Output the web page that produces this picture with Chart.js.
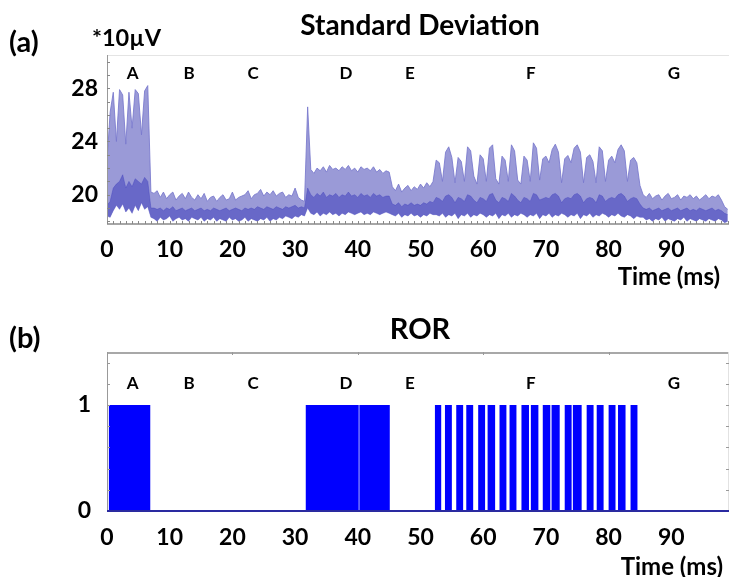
<!DOCTYPE html>
<html><head><meta charset="utf-8">
<script src="https://cdn.jsdelivr.net/npm/chart.js@4.4.0/dist/chart.umd.min.js"></script>
<style>
html,body{margin:0;padding:0;background:#fff;}
body{width:730px;height:577px;position:relative;overflow:hidden;font-family:Lato,"Open Sans",sans-serif;font-weight:bold;color:#000;}
canvas{position:absolute;left:0;}
.t{position:absolute;white-space:nowrap;line-height:1;transform:translateY(-50%);}
.c{transform:translate(-50%,-50%);}
</style></head><body>
<canvas id="c1" width="730" height="290" style="top:0"></canvas>
<canvas id="c2" width="730" height="287" style="top:290px"></canvas>
<div class="t" style="left:9px;top:40px;font-size:29px">(a)</div>
<div class="t" style="left:92px;top:38px;font-size:23.5px">*10µV</div>
<div class="t c" style="left:420px;top:24px;font-size:28px">Standard Deviation</div>
<div class="t" style="right:10px;top:276px;font-size:24px">Time (ms)</div>
<div class="t" style="left:9px;top:336px;font-size:29px">(b)</div>
<div class="t c" style="left:420px;top:327px;font-size:29px">ROR</div>
<div class="t" style="right:7px;top:566px;font-size:24px">Time (ms)</div>
<script>
// ---------------- data ----------------
const sdStepMs = 0.5;             // sample spacing of the SD trace (ms)
// upper envelope of the standard deviation trace (*10 µV), regions A..G
const sdUpper = [
  22.5,26.2,27.7,24.0,27.9,27.5,23.8,27.7,25.0,27.9,27.6,24.5,27.8,28.2,20.2,
  20.1,20.3,19.8,20.2,19.7,20.0,20.2,19.6,19.9,20.1,19.7,20.2,19.8,19.6,20.0,19.7,20.1,19.5,19.8,19.9,19.5,19.8,20.0,19.6,19.7,20.2,19.6,19.8,19.9,20.0,20.3,19.7,20.0,20.1,20.4,19.9,20.2,20.0,20.3,19.9,20.1,20.2,19.8,20.0,19.9,20.5,19.8,19.6,19.5,
  26.6,21.9,21.6,22.0,21.8,22.1,21.7,22.2,21.9,22.0,21.8,22.1,21.9,22.2,21.8,22.0,21.7,22.1,21.9,22.0,21.8,22.1,21.7,21.9,21.6,21.8,21.7,
  20.6,20.3,20.8,20.2,20.5,20.7,20.3,20.6,20.4,20.8,20.5,20.9,20.6,21.0,
  22.6,22.4,21.0,23.2,23.6,22.8,20.9,22.8,22.5,21.0,
  23.6,23.3,21.4,20.8,23.0,22.7,21.0,23.5,23.75,21.2,
  20.8,22.9,22.6,21.0,23.75,23.3,21.1,20.8,22.9,22.6,
  21.0,23.9,23.5,21.1,22.7,22.9,22.4,23.4,23.8,23.2,
  20.9,22.7,22.95,22.4,23.5,23.75,23.2,20.9,22.8,23.0,
  22.5,20.9,23.6,23.3,21.0,22.6,22.9,22.4,23.4,23.75,
  23.3,21.0,22.6,22.8,22.4,20.7,
  20.0,19.8,20.1,19.7,19.9,20.0,19.6,19.9,20.1,19.7,19.8,20.0,19.6,19.9,19.8,20.0,19.7,19.9,19.6,19.8,20.0,19.7,19.9,19.8,20.0,19.6,19.1,18.9
];
// lower envelope
const sdLower = [
  18.4,18.3,18.8,19.2,18.9,19.3,18.7,19.0,18.6,19.2,18.8,19.4,18.9,19.1,18.3,
  18.2,18.0,18.3,18.1,18.2,18.4,18.0,18.2,18.3,18.1,18.2,18.0,18.3,18.2,18.1,18.3,18.0,18.2,18.1,18.3,18.0,18.2,18.1,18.0,18.3,18.1,18.2,18.0,18.1,18.3,18.0,18.2,18.1,18.0,18.2,18.1,18.3,18.0,18.2,18.1,18.3,18.2,18.4,18.3,18.2,18.4,18.3,18.5,18.4,
  19.0,18.6,18.5,18.7,18.4,18.6,18.5,18.7,18.5,18.6,18.4,18.6,18.5,18.7,18.6,18.5,18.6,18.7,18.5,18.6,18.5,18.7,18.6,18.5,18.6,18.7,18.6,
  18.5,18.4,18.6,18.3,18.5,18.4,18.6,18.4,18.5,18.3,18.5,18.4,18.6,18.5,
  18.5,18.4,18.6,18.3,18.5,18.4,18.6,18.2,18.5,18.4,
  18.6,18.3,18.5,18.4,18.6,18.5,18.3,18.5,18.4,18.6,
  18.2,18.5,18.4,18.6,18.3,18.5,18.4,18.6,18.5,18.3,
  18.5,18.4,18.6,18.2,18.5,18.4,18.6,18.3,18.5,18.4,
  18.6,18.5,18.3,18.5,18.4,18.6,18.2,18.5,18.4,18.6,
  18.3,18.5,18.4,18.6,18.5,18.3,18.5,18.4,18.6,18.4,
  18.3,18.5,18.4,18.2,18.4,18.3,
  18.3,18.1,18.2,18.0,18.2,18.1,18.3,18.0,18.2,18.1,18.0,18.2,18.1,18.3,18.0,18.2,18.1,18.0,18.2,18.1,18.0,18.2,18.1,18.0,18.2,18.1,17.9,18.0
];
// top of the dense (dark) core of the trace
const sdCore = [
  19.2,19.5,20.5,20.8,21.0,21.5,20.5,21.0,20.6,21.2,21.0,20.8,21.3,21.0,19.0,
  19.0,18.9,19.0,18.8,19.0,18.9,19.1,18.8,18.9,19.0,18.8,18.9,19.0,18.8,18.9,19.0,18.8,18.9,18.8,19.0,18.9,18.8,18.9,19.0,18.8,18.9,19.0,18.9,18.8,19.0,18.9,19.0,18.9,19.1,19.0,18.9,19.1,19.0,18.9,19.1,19.0,18.9,19.1,19.0,19.1,19.2,19.0,19.1,19.0,
  20.5,20.0,19.8,20.1,19.9,20.2,19.8,20.0,19.9,20.1,19.8,20.0,19.9,20.2,19.9,20.0,19.8,20.1,19.9,20.0,19.8,20.1,19.9,20.0,19.8,19.9,19.9,
  19.3,19.2,19.4,19.1,19.3,19.2,19.4,19.2,19.3,19.2,19.4,19.3,19.5,19.4,
  19.8,19.7,19.5,19.9,20.0,19.8,19.4,19.8,19.7,19.5,
  20.0,19.9,19.6,19.4,19.8,19.7,19.5,20.0,20.1,19.6,
  19.4,19.8,19.7,19.5,20.1,19.9,19.6,19.4,19.8,19.7,
  19.5,20.1,20.0,19.6,19.7,19.8,19.7,20.0,20.1,19.9,
  19.4,19.7,19.8,19.7,20.0,20.1,19.9,19.4,19.7,19.8,
  19.7,19.4,20.0,19.9,19.5,19.7,19.8,19.7,20.0,20.1,
  19.9,19.5,19.7,19.8,19.7,19.3,
  19.0,18.9,19.0,18.8,18.9,19.0,18.8,18.9,19.0,18.8,18.9,19.0,18.8,18.9,19.0,18.8,18.9,18.8,19.0,18.9,18.8,18.9,19.0,18.8,18.9,18.8,18.6,18.5
];
// ROR on-intervals (ms)
const rorStart = [0.3,31.7,40.2,52.3,53.9,55.7,57.3,59.2,60.7,62.6,64.2,66.1,67.6,69.5,70.9,73.0,74.3,76.5,78.1,80.0,81.5,83.5];
const rorEnd   = [6.9,40.2,45.1,53.3,55.0,56.8,58.4,60.3,61.9,63.7,65.3,67.3,68.8,70.7,72.2,74.1,75.7,77.6,79.2,81.1,82.7,84.6];
// axes / labels
const timeMax = 99.2;
const xTickLabels = [0,10,20,30,40,50,60,70,80,90];
const sdTicks = [20,24,28];
const sdRange = [17.8,30.5];
const rorTicks = [0,1];
const rorRange = [0,1.5];
const regionNames = ['A','B','C','D','E','F','G'];
const regionPos   = [4.1,13.1,23.3,38.1,48.3,67.6,90.4];

// ---------------- helpers ----------------
const toPts = arr => arr.map((v,i)=>({x:i*sdStepMs, y:v}));
const rorPts = [{x:0,y:0}];
rorStart.forEach((s,i)=>{ rorPts.push({x:s,y:0},{x:s,y:1},{x:rorEnd[i],y:1},{x:rorEnd[i],y:0}); });
rorPts.push({x:timeMax,y:0});
const dividerPts = [];
rorEnd.forEach((e,i)=>{ if(i+1<rorStart.length && rorStart[i+1]===e){ dividerPts.push({x:e,y:0},{x:e,y:1},{x:NaN,y:NaN}); } });

const FONT = 'Lato';
function ln(ctx,x1,y1,x2,y2){ctx.beginPath();ctx.moveTo(x1,y1);ctx.lineTo(x2,y2);ctx.stroke();}

const decor = {
  id:'decor',
  afterDraw(chart, args, o){
    const {ctx, chartArea:a, scales:{x,y}} = chart;
    ctx.save();
    ctx.lineWidth = o.topWidth; ctx.strokeStyle = o.topColor;
    ln(ctx, a.left, a.top+o.topWidth/2, a.right, a.top+o.topWidth/2);
    if (o.rightColor){ ctx.lineWidth=1; ctx.strokeStyle=o.rightColor; ln(ctx,a.right-0.5,a.top,a.right-0.5,a.bottom); }
    ctx.lineWidth = 1; ctx.strokeStyle = o.leftColor;
    ln(ctx, a.left+0.5, a.top, a.left+0.5, a.bottom);
    ctx.strokeStyle = o.tickColor; ctx.lineWidth = 1;
    for (let k=0; ; k++){
      const v = o.yMinorStart + k*o.yMinorStep; if (v > y.max+1e-9) break;
      const py = Math.round(y.getPixelForValue(v))+0.5;
      ln(ctx, a.left, py, a.left+o.len, py);
      if (o.rightTicks) ln(ctx, a.right, py, a.right-o.len, py);
    }
    if (o.xMinorStep){
      for (let k=0; ; k++){
        const v = k*o.xMinorStep; if (v > x.max+1e-9) break;
        const px = Math.round(x.getPixelForValue(v))+0.5;
        ln(ctx, px, a.bottom, px, a.bottom-o.len);
      }
    }
    if (o.topTickStep){
      for (let k=1; ; k++){
        const v = k*o.topTickStep; if (v > x.max) break;
        const px = Math.round(x.getPixelForValue(v))+0.5;
        ln(ctx, px, a.top, px, a.top+o.len);
      }
    }
    ctx.lineWidth = o.bottomWidth; ctx.strokeStyle = o.bottomColor;
    ln(ctx, a.left, a.bottom, a.right, a.bottom);
    ctx.fillStyle = '#000'; ctx.font = 'bold 17px '+FONT; ctx.textAlign='center'; ctx.textBaseline='middle';
    regionNames.forEach((n,i)=>ctx.fillText(n, x.getPixelForValue(regionPos[i]), a.top + o.letterDy));
    ctx.restore();
  }
};

const tickFont = {family:FONT, weight:'bold', size:23};
function xScale(pad){
  return {type:'linear', min:0, max:timeMax,
    afterBuildTicks(s){ s.ticks = xTickLabels.map(v=>({value:v})); },
    afterFit(s){ s.height = 66; },
    grid:{display:false, drawTicks:false}, border:{display:false},
    ticks:{font:tickFont, color:'#000', padding:pad, maxRotation:0, autoSkip:false}};
}
function yScale(range, ticks, pad){
  return {type:'linear', min:range[0], max:range[1],
    afterBuildTicks(s){ s.ticks = ticks.map(v=>({value:v})); },
    afterFit(s){ s.width = 107; },
    grid:{display:false, drawTicks:false}, border:{display:false},
    ticks:{font:tickFont, color:'#000', padding:pad}};
}

new Chart(document.getElementById('c1'), {
  type:'line',
  data:{datasets:[
    {data:toPts(sdLower), borderColor:'rgba(110,110,205,0.6)', borderWidth:0.8, pointRadius:0, fill:false, order:1},
    {data:toPts(sdCore), borderColor:'rgba(70,70,190,0.55)', borderWidth:0.8, backgroundColor:'rgba(55,55,185,0.5)', pointRadius:0, fill:0, order:0},
    {data:toPts(sdUpper), borderColor:'rgba(120,120,205,0.85)', borderWidth:1, backgroundColor:'rgba(115,115,200,0.72)', pointRadius:0, fill:0, order:2}
  ]},
  options:{responsive:false, animation:false, devicePixelRatio:1,
    layout:{padding:{left:0,right:1,top:55,bottom:0}},
    elements:{line:{tension:0}},
    plugins:{legend:{display:false}, tooltip:{enabled:false},
      decor:{topColor:'#e4e4e4', topWidth:1, leftColor:'#999', tickColor:'#888', len:3,
             yMinorStart:18, yMinorStep:1, xMinorStep:1, bottomColor:'#888', bottomWidth:1.5, letterDy:19}},
    scales:{x:xScale(12), y:yScale(sdRange, sdTicks, 9)}
  },
  plugins:[decor]
});

new Chart(document.getElementById('c2'), {
  type:'line',
  data:{datasets:[
    {data:rorPts, borderWidth:0, borderColor:'#0000ff', backgroundColor:'#0000ff', pointRadius:0, fill:'origin', order:1},
    {data:dividerPts, borderWidth:1, borderColor:'rgba(190,190,255,0.9)', pointRadius:0, fill:false, spanGaps:false, order:0}
  ]},
  options:{responsive:false, animation:false, devicePixelRatio:1,
    layout:{padding:{left:0,right:1,top:62,bottom:0}},
    elements:{line:{tension:0}},
    plugins:{legend:{display:false}, tooltip:{enabled:false},
      decor:{topColor:'#a8a8a8', topWidth:2, leftColor:'#999', rightColor:'#e2e2e2', rightTicks:true, tickColor:'#999', len:3,
             yMinorStart:0.2, yMinorStep:0.2, topTickStep:20, bottomColor:'#2a2aa0', bottomWidth:2, letterDy:32}},
    scales:{x:xScale(13), y:yScale(rorRange, rorTicks, 16)}
  },
  plugins:[decor]
});
</script>
</body></html>
